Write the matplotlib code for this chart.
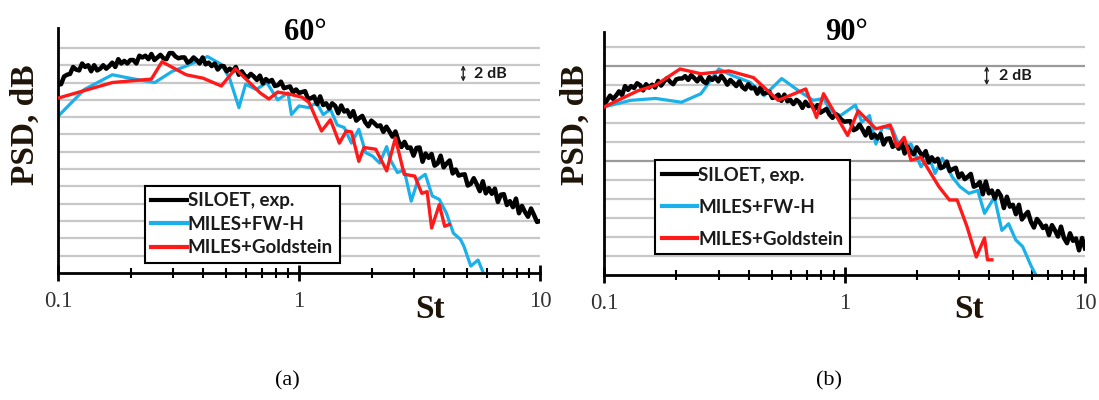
import matplotlib
matplotlib.use("Agg")
import matplotlib.pyplot as plt
from matplotlib.ticker import FixedLocator, NullFormatter, LogLocator

# ---------------- data ----------------
# Strouhal numbers of the measured spectrum, one decade of values (1 .. 10)
st_decade = [1.0000, 1.0292, 1.0593, 1.0902, 1.1220, 1.1548, 1.1885, 1.2232, 1.2589, 1.2957,
             1.3335, 1.3725, 1.4125, 1.4538, 1.4962, 1.5399, 1.5849, 1.6312, 1.6788, 1.7278,
             1.7783, 1.8302, 1.8836, 1.9387, 1.9953, 2.0535, 2.1135, 2.1752, 2.2387, 2.3041,
             2.3714, 2.4406, 2.5119, 2.5852, 2.6607, 2.7384, 2.8184, 2.9007, 2.9854, 3.0726,
             3.1623, 3.2546, 3.3497, 3.4475, 3.5481, 3.6517, 3.7584, 3.8681, 3.9811, 4.0973,
             4.2170, 4.3401, 4.4668, 4.5973, 4.7315, 4.8697, 5.0119, 5.1582, 5.3088, 5.4639,
             5.6234, 5.7876, 5.9566, 6.1306, 6.3096, 6.4938, 6.6834, 6.8786, 7.0795, 7.2862,
             7.4989, 7.7179, 7.9433, 8.1752, 8.4140, 8.6596, 8.9125, 9.1728, 9.4406, 9.7163]
st_exp = [v / 10 for v in st_decade] + st_decade + [10.0]

psd_exp_60 = [21.8, 21.8, 22.7, 22.9, 23.0, 23.8, 23.5, 23.4, 24.2, 23.8,
              24.0, 23.3, 24.0, 23.4, 23.6, 24.0, 23.6, 23.9, 24.3, 23.8,
              24.7, 24.2, 24.5, 24.2, 24.6, 24.6, 24.2, 25.1, 24.9, 25.1,
              24.7, 25.3, 24.6, 24.9, 25.2, 24.8, 24.7, 25.4, 25.4, 25.0,
              24.8, 24.9, 24.9, 24.3, 24.5, 24.9, 24.6, 24.2, 24.9, 24.1,
              24.3, 23.9, 24.2, 23.5, 23.9, 23.9, 23.3, 23.6, 23.3, 23.8,
              22.9, 23.3, 22.8, 22.6, 23.0, 22.7, 22.3, 22.8, 21.9, 22.4,
              22.1, 22.3, 21.6, 21.7, 22.1, 21.35, 21.45, 21.55, 20.85, 21.2,
              20.8, 20.9, 21.0, 20.1, 20.2, 20.4, 19.5, 20.4, 19.4, 19.6,
              19.0, 19.6, 19.3, 18.45, 19.35, 18.65, 18.8, 18.05, 18.7, 17.6,
              17.9, 18.15, 17.4, 16.95, 17.6, 17.3, 16.95, 17.05, 16.3, 16.9,
              16.35, 15.75, 16.35, 15.25, 14.55, 15.15, 14.45, 14.5, 13.55, 14.45,
              14.5, 12.85, 13.8, 13.3, 13.75, 12.4, 12.65, 13.55, 12.2, 12.65,
              13.0, 11.5, 11.95, 11.25, 11.35, 11.4, 10.1, 10.3, 10.95, 10.25,
              9.45, 10.6, 9.2, 9.8, 9.15, 9.75, 8.2, 9.05, 9.1, 7.85,
              8.3, 7.6, 8.6, 6.9, 7.75, 7.05, 6.5, 7.45, 6.7, 5.9, 6.0]

psd_exp_90 = [17.9, 18.4, 18.9, 18.55, 18.9, 19.35, 18.95, 19.9, 19.5, 19.9,
              19.7, 20.2, 20.0, 19.45, 20.1, 19.75, 20.05, 19.75, 20.45, 19.95,
              20.4, 20.75, 20.35, 20.1, 20.6, 20.7, 20.7, 20.95, 20.55, 21.05,
              20.75, 20.4, 20.9, 20.4, 20.2, 20.85, 20.55, 20.85, 20.4, 21.0,
              20.6, 20.05, 20.55, 20.25, 19.9, 20.4, 19.8, 19.55, 20.1, 19.65,
              19.75, 19.1, 19.75, 19.1, 19.2, 19.3, 18.65, 18.75, 19.0, 18.35,
              19.0, 18.3, 18.45, 18.0, 18.45, 18.2, 17.6, 18.25, 17.8, 17.95,
              17.45, 17.9, 17.1, 17.3, 17.5, 16.9, 16.55, 16.95, 16.7, 16.35,
              16.15, 16.2, 16.2, 15.25, 15.4, 15.85, 15.3, 14.7, 15.5, 14.45,
              14.8, 14.4, 14.85, 13.75, 14.35, 14.4, 13.5, 13.8, 13.3, 14.0,
              12.8, 13.5, 13.0, 12.7, 13.45, 12.95, 12.5, 13.05, 11.85, 12.4,
              11.95, 12.25, 11.25, 11.4, 11.95, 10.95, 11.15, 11.3, 10.3, 10.7,
              10.1, 10.35, 10.65, 9.3, 9.45, 9.8, 8.5, 9.85, 8.6, 8.9,
              8.05, 8.85, 8.35, 7.05, 8.25, 7.2, 7.4, 6.4, 7.4, 5.85,
              6.3, 6.65, 5.6, 5.0, 5.9, 5.5, 4.95, 5.2, 4.2, 5.25,
              4.7, 4.05, 5.1, 3.9, 3.35, 4.4, 3.6, 3.85, 2.6, 3.9, 2.8]

st_fwh_60 = [0.1, 0.1286, 0.168, 0.199, 0.252, 0.298, 0.34, 0.417, 0.476, 0.515,
             0.563, 0.60, 0.665, 0.735, 0.815, 0.90, 0.93, 1.0, 1.10, 1.18,
             1.26, 1.35, 1.44, 1.54, 1.65, 1.77, 1.89, 2.02, 2.16, 2.31,
             2.39, 2.56, 2.73, 2.92, 3.12, 3.34, 3.57, 3.82, 4.09, 4.37,
             4.67, 4.83, 5.16, 5.53, 5.92]
psd_fwh_60 = [18.1, 21.2, 22.9, 22.5, 22.0, 23.3, 23.9, 25.0, 24.1, 22.5,
              19.1, 21.8, 21.2, 22.0, 20.0, 20.8, 18.3, 19.3, 19.1, 19.7,
              18.3, 18.9, 17.1, 16.8, 15.0, 16.6, 13.9, 13.5, 12.7, 14.6,
              13.1, 11.6, 11.9, 8.3, 10.8, 11.4, 8.9, 8.5, 6.9, 4.6,
              3.9, 3.1, 0.8, 1.5, -0.5]

st_gold_60 = [0.1, 0.168, 0.244, 0.27, 0.34, 0.40, 0.476, 0.544, 0.69, 0.75,
              0.815, 0.90, 1.03, 1.10, 1.24, 1.35, 1.47, 1.57, 1.65, 1.77,
              1.86, 2.08, 2.31, 2.51, 2.73, 3.02, 3.23, 3.40, 3.55, 3.82, 4.02, 4.2]
psd_gold_60 = [20.2, 22.0, 22.4, 24.4, 22.9, 22.5, 21.6, 23.6, 20.8, 20.1,
               20.9, 20.7, 20.3, 19.7, 16.4, 17.7, 15.0, 16.4, 16.3, 12.9,
               14.5, 14.3, 11.8, 15.6, 11.4, 11.2, 9.2, 9.4, 5.2, 7.9, 5.4, 5.6]

st_fwh_90 = [0.1, 0.129, 0.164, 0.21, 0.253, 0.30, 0.342, 0.405, 0.463, 0.548,
             0.645, 0.741, 0.818, 0.875, 0.963, 1.11, 1.18, 1.27, 1.35, 1.44,
             1.58, 1.71, 1.89, 2.08, 2.23, 2.38, 2.55, 2.81, 3.02, 3.29,
             3.58, 3.82, 4.2, 4.51, 4.81, 5.15, 5.5, 5.98, 6.4]
psd_fwh_90 = [17.7, 18.4, 18.6, 18.2, 19.1, 21.7, 21.0, 20.3, 18.9, 20.7,
              19.4, 18.4, 18.6, 17.3, 16.8, 17.9, 16.1, 16.8, 13.8, 15.6,
              15.4, 13.3, 13.8, 11.4, 12.6, 10.7, 12.3, 10.3, 9.3, 8.6,
              8.9, 6.5, 8.2, 4.7, 5.4, 3.7, 3.0, 0.9, -0.5]

st_gold_90 = [0.1, 0.138, 0.164, 0.207, 0.253, 0.331, 0.418, 0.53, 0.69, 0.765,
              0.818, 1.03, 1.14, 1.35, 1.55, 1.65, 1.77, 1.89, 2.08, 2.47,
              2.73, 2.94, 3.23, 3.53, 3.82, 3.93, 4.1]
psd_gold_90 = [17.7, 19.4, 20.0, 21.7, 21.2, 21.5, 20.8, 18.4, 19.6, 16.6,
               19.1, 14.7, 17.3, 15.4, 15.8, 13.5, 14.5, 12.1, 12.4, 9.3,
               7.9, 7.9, 5.1, 1.9, 3.9, 1.6, 1.6]

x_ticks = [0.1, 1, 10]
x_tick_labels = ["0.1", "1", "10"]
series_labels = ["SILOET, exp.", "MILES+FW-H", "MILES+Goldstein"]
panel_titles = ["60°", "90°"]
panel_captions = ["(a)", "(b)"]

# ---------------- style ----------------
C_EXP = "#000000"
C_FWH = "#1ab0ea"
C_GOLD = "#ff1a1a"
SERIF = ["Liberation Serif", "DejaVu Serif"]
SANS = ["Lato", "DejaVu Sans"]

fig = plt.figure(figsize=(10.99, 4.0), dpi=100)
fig.patch.set_facecolor("white")

panels = [
    dict(rect=[0.0528, 0.3175, 0.4386, 0.6125], ylim=28.3, grid_top=26,
         exp=psd_exp_60, fwh=(st_fwh_60, psd_fwh_60), gold=(st_gold_60, psd_gold_60),
         leg=(0.180, 0.357), labelspacing=0.35, dark=[],
         arrow=(4.8, 22.1, 24.0), dbtext=(5.3, 23.0),
         title_x=305, psd_x=25, st_x=430, cap_x=287),
    dict(rect=[0.5496, 0.3125, 0.4377, 0.6075], ylim=25.6, grid_top=24,
         exp=psd_exp_90, fwh=(st_fwh_90, psd_fwh_90), gold=(st_gold_90, psd_gold_90),
         leg=(0.106, 0.473), labelspacing=0.8, dark=[22, 12],
         arrow=(3.9, 20.0, 22.0), dbtext=(4.4, 21.0),
         title_x=846, psd_x=575, st_x=969, cap_x=829),
]

W, H = 1099.0, 400.0

for i, p in enumerate(panels):
    ax = fig.add_axes(p["rect"])
    ax.set_xscale("log")
    ax.set_xlim(0.1, 10)
    ax.set_ylim(0, p["ylim"])
    for g in range(2, p["grid_top"] + 1, 2):
        col = "#9a9a9a" if g in p["dark"] else "#c8c8c8"
        ax.axhline(g, color=col, lw=1.6, zorder=0)
    l1, = ax.plot(st_exp, p["exp"], color=C_EXP, lw=3.2, zorder=3)
    l2, = ax.plot(p["fwh"][0], p["fwh"][1], color=C_FWH, lw=2.3, zorder=2)
    l3, = ax.plot(p["gold"][0], p["gold"][1], color=C_GOLD, lw=2.4, zorder=4)

    for s in ["top", "right"]:
        ax.spines[s].set_visible(False)
    for s in ["left", "bottom"]:
        ax.spines[s].set_linewidth(2.0)
        ax.spines[s].set_color("black")
    ax.set_yticks([])
    ax.xaxis.set_major_locator(FixedLocator(x_ticks))
    ax.xaxis.set_minor_locator(LogLocator(base=10, subs=[2, 3, 4, 5, 6, 7, 8, 9]))
    ax.xaxis.set_minor_formatter(NullFormatter())
    ax.set_xticklabels(x_tick_labels)
    ax.tick_params(axis="x", which="major", direction="inout", length=12, width=2, pad=7,
                   labelsize=16.5, labelcolor="#333333")
    ax.tick_params(axis="x", which="minor", direction="inout", length=7, width=1.5)
    for lab in ax.get_xticklabels():
        lab.set_family(SERIF)
        lab.set_fontsize(16.5)

    leg = ax.legend([l1, l2, l3], series_labels, loc="upper left",
                    bbox_to_anchor=p["leg"], borderaxespad=0, frameon=True,
                    fancybox=False, edgecolor="black", framealpha=1,
                    handlelength=1.9, handletextpad=0.05, labelspacing=p["labelspacing"],
                    borderpad=0.35, prop=dict(family=SANS, weight="bold", size=13.5))
    leg.get_frame().set_linewidth(1.5)
    for line in leg.get_lines():
        line.set_linewidth(3)
    for t in leg.get_texts():
        t.set_color("#1a1a1a")

    ax.annotate("", xy=(p["arrow"][0], p["arrow"][1]), xytext=(p["arrow"][0], p["arrow"][2]),
                arrowprops=dict(arrowstyle="<->", lw=1.0, color="#222222",
                                shrinkA=0, shrinkB=0, mutation_scale=6), zorder=5)
    ax.text(p["dbtext"][0], p["dbtext"][1], "2 dB", family=SANS, weight="bold",
            fontsize=11.5, color="#1a1a1a", va="center", ha="left", zorder=5)

    fig.text(p["title_x"] / W, 1 - 32 / H, panel_titles[i], family=SERIF, weight="bold",
             fontsize=22, ha="center", va="center")
    fig.text(p["psd_x"] / W, 1 - 125 / H, "PSD, dB", family=SERIF, weight="bold",
             fontsize=24, rotation=90, ha="center", va="center", color="#1e1408")
    fig.text(p["st_x"] / W, 1 - 310 / H, "St", family=SERIF, weight="bold",
             fontsize=24, ha="center", va="center", color="#1e1408")
    fig.text(p["cap_x"] / W, 1 - 381 / H, panel_captions[i], family=SERIF,
             fontsize=16, ha="center", va="center")

fig.savefig("out.png", dpi=100, facecolor="white")
